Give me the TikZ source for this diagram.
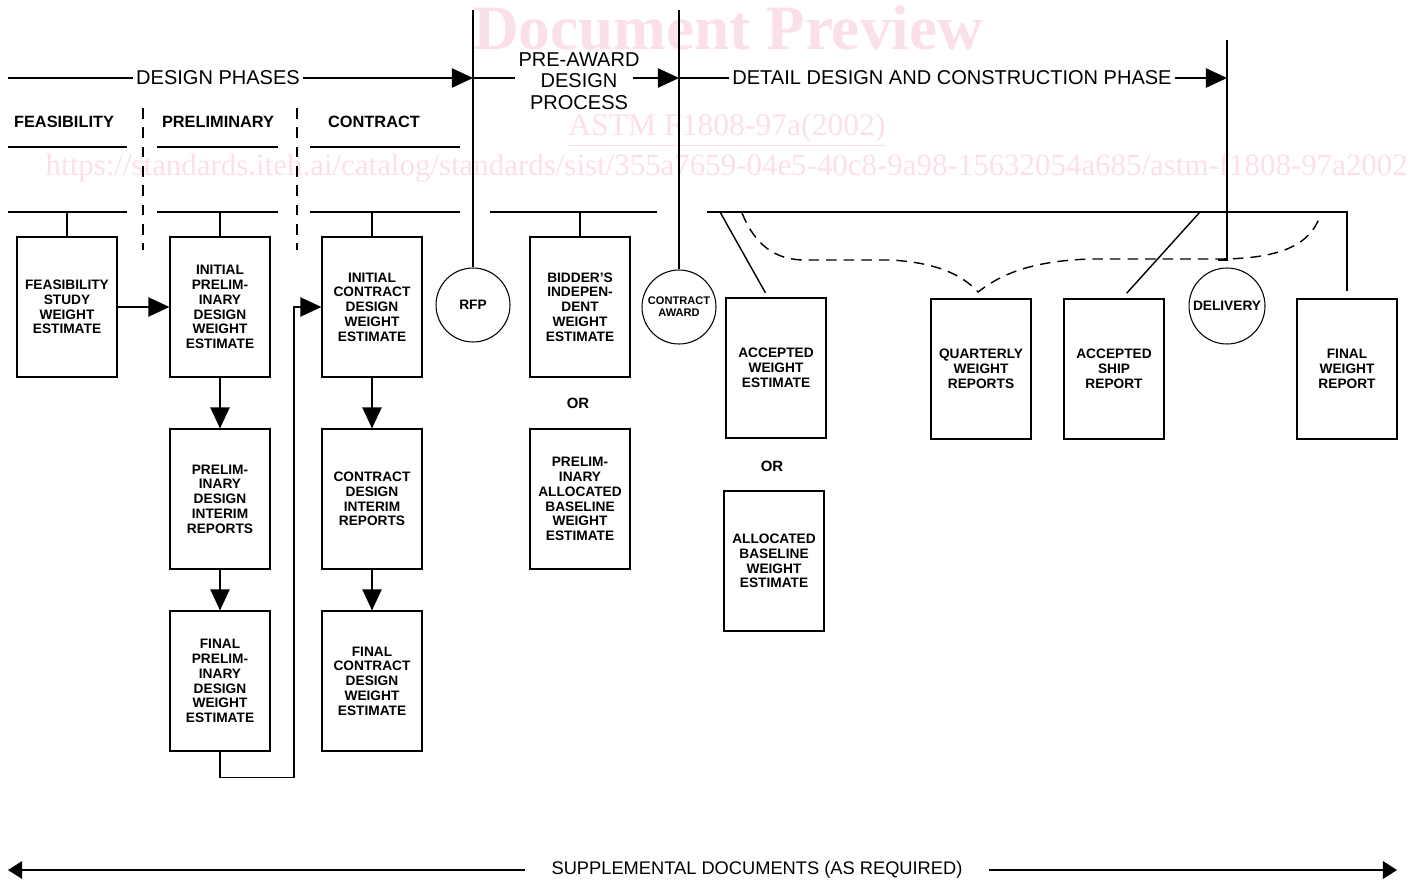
\documentclass[tikz,border=0pt]{standalone}
\usepackage{fontspec}
\setmainfont{Liberation Sans}
\newfontfamily\wmfont{Liberation Serif}
\usetikzlibrary{arrows.meta}
\definecolor{wmpink}{RGB}{251,224,232}

\begin{document}
\begin{tikzpicture}[x=0.02cm,y=-0.02cm,line width=0.8pt,
  box/.style={draw,line width=0.7pt,minimum width=2cm,minimum height=2.8cm,inner sep=0pt,align=center,font=\bfseries\fontsize{7.8}{8.4}\selectfont},
  event/.style={draw,circle,line width=0.6pt,minimum size=1.48cm,inner sep=0pt,align=center,font=\bfseries\fontsize{7.8}{8.4}\selectfont},
  phase/.style={inner sep=1.5pt,align=center,font=\fontsize{11.4}{12.3}\selectfont},
  subphase/.style={font=\bfseries\fontsize{9.3}{10}\selectfont},
  ortext/.style={font=\bfseries\fontsize{8.5}{9}\selectfont},
  flow/.style={-{Triangle[length=12pt,width=11pt]}},
  supparrow/.style={-{Triangle[length=8pt,width=10pt]}},
  wm/.style={text=wmpink,inner sep=0pt}]
  \useasboundingbox (0,0) rectangle (1408,882);

  \node[wm,font=\wmfont\bfseries\fontsize{36}{40}\selectfont] (wmtitle) at (728,28) {Document Preview};
  \node[wm,font=\wmfont\fontsize{18}{20}\selectfont] (wmstd) at (727,130) {\underline{ASTM F1808-97a(2002)}};
  \node[wm,font=\wmfont\fontsize{17.6}{20}\selectfont,anchor=west] (wmurl) at (45,168) {https://standards.iteh.ai/catalog/standards/sist/355a7659-04e5-40c8-9a98-15632054a685/astm-f1808-97a2002};

  \coordinate (phstart) at (8,78);
  \coordinate (rfptop) at (473,10);
  \coordinate (catop) at (679,10);
  \coordinate (deltop) at (1227,40);
  \coordinate (preend) at (633,78);
  \node[phase] (dphase) at (218,78) {DESIGN PHASES};
  \node[phase] (pre) at (579,81) {PRE-AWARD\\DESIGN\\PROCESS};
  \node[phase] (detail) at (952,78) {DETAIL DESIGN AND CONSTRUCTION PHASE};
  \draw (phstart) -- (dphase.west);
  \draw[flow] (dphase.east) -- (rfptop |- dphase);
  \draw (rfptop |- dphase) -- (pre.west |- dphase);
  \draw[flow] (preend) -- (catop |- dphase);
  \draw (catop |- dphase) -- (detail.west);
  \draw[flow] (detail.east) -- (deltop |- detail);

  \node[subphase] (feashd) at (64,122) {FEASIBILITY};
  \node[subphase] (prelhd) at (218,122) {PRELIMINARY};
  \node[subphase] (conhd) at (374,122) {CONTRACT};
  \foreach \a/\b in {8/127,157/278,310/460}
    \draw (\a,147) -- (\b,147);
  \foreach \a/\b in {8/127,157/278,310/460,490/657}
    \draw (\a,212) -- (\b,212);
  \foreach \x in {143,297}
    \draw[dash pattern=on 6pt off 5pt] (\x,108) -- (\x,250);

  \node[box] (feas) at (67,307) {FEASIBILITY\\STUDY\\WEIGHT\\ESTIMATE};
  \node[box] (iprel) at (220,307) {INITIAL\\PRELIM-\\INARY\\DESIGN\\WEIGHT\\ESTIMATE};
  \node[box] (icon) at (372,307) {INITIAL\\CONTRACT\\DESIGN\\WEIGHT\\ESTIMATE};
  \node[box] (prelint) at (220,499) {PRELIM-\\INARY\\DESIGN\\INTERIM\\REPORTS};
  \node[box] (conint) at (372,499) {CONTRACT\\DESIGN\\INTERIM\\REPORTS};
  \node[box] (fprel) at (220,681) {FINAL\\PRELIM-\\INARY\\DESIGN\\WEIGHT\\ESTIMATE};
  \node[box] (fcon) at (372,681) {FINAL\\CONTRACT\\DESIGN\\WEIGHT\\ESTIMATE};
  \node[box] (bidder) at (580,307) {BIDDER'S\\INDEPEN-\\DENT\\WEIGHT\\ESTIMATE};
  \node[ortext] (or1) at (578,403) {OR};
  \node[box] (pab) at (580,499) {PRELIM-\\INARY\\ALLOCATED\\BASELINE\\WEIGHT\\ESTIMATE};
  \node[box] (accwt) at (776,368) {ACCEPTED\\WEIGHT\\ESTIMATE};
  \node[ortext] (or2) at (772,466) {OR};
  \node[box] (alloc) at (774,561) {ALLOCATED\\BASELINE\\WEIGHT\\ESTIMATE};
  \node[box] (quart) at (981,369) {QUARTERLY\\WEIGHT\\REPORTS};
  \node[box] (accship) at (1114,369) {ACCEPTED\\SHIP\\REPORT};
  \node[box] (finalwt) at (1347,369) {FINAL\\WEIGHT\\REPORT};

  \node[event] (rfp) at (473,305) {RFP};
  \node[event,font=\bfseries\fontsize{6.3}{6.8}\selectfont] (award) at (679,307) {CONTRACT\\AWARD};
  \node[event,minimum size=1.52cm] (deliv) at (1227,306) {DELIVERY};
  \draw (rfptop) -- (rfp);
  \draw (catop) -- (award);
  \draw (deltop) -- (1227,260) -- (1218,260);

  \foreach \n in {feas,iprel,icon,bidder}
    \draw (\n.north) -- ++(0,-25);
  \draw[flow] (feas) -- (iprel);
  \draw[flow] (iprel) -- (prelint);
  \draw[flow] (prelint) -- (fprel);
  \draw[flow] (icon) -- (conint);
  \draw[flow] (conint) -- (fcon);
  \draw[flow] (fprel.south) -- ++(0,26) -- ++(74,0) |- (icon.west);

  \coordinate (ddstart) at (707,212);
  \draw[shorten >=4pt] (ddstart) -| (finalwt.north);
  \draw[shorten >=3pt] (720,212) -- ([xshift=-0.16cm]accwt.north);
  \draw[shorten >=4pt] (1200,212) -- ([xshift=0.16cm]accship.north);
  \draw[dash pattern=on 6pt off 4pt] (742,213) .. controls (755,245) and (775,260) .. (805,260)
    -- (890,260) .. controls (930,262) and (960,272) .. (978,292)
    .. controls (1000,275) and (1030,261) .. (1090,259) -- (1218,259)
    .. controls (1280,259) and (1310,245) .. (1320,216);

  \coordinate (suppL) at (8,870);
  \coordinate (suppR) at (1397,870);
  \node[phase,inner xsep=15pt,font=\fontsize{10.4}{11}\selectfont] (supp) at (757,870) {SUPPLEMENTAL DOCUMENTS (AS REQUIRED)};
  \draw[supparrow] (supp.west) -- (suppL);
  \draw[supparrow] (supp.east) -- (suppR);
\end{tikzpicture}
\end{document}
